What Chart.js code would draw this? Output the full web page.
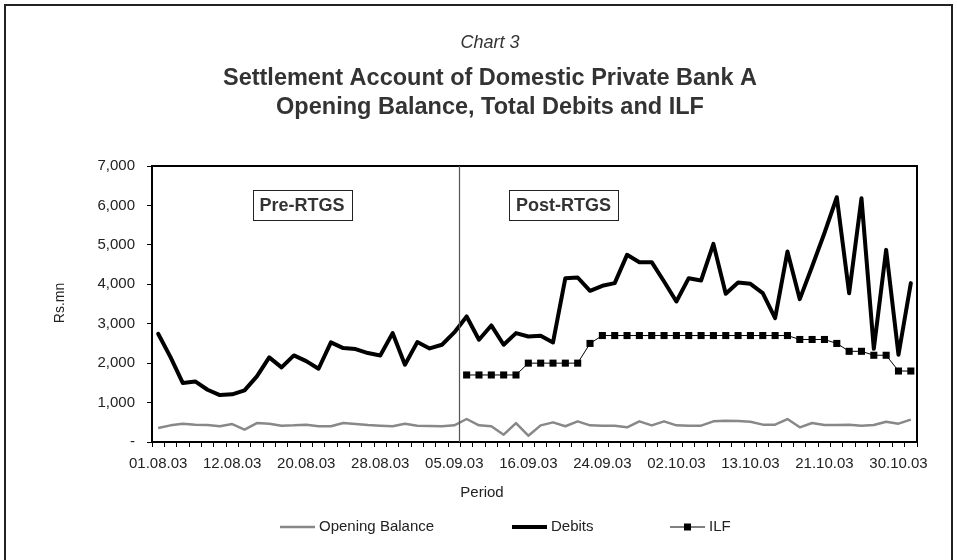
<!DOCTYPE html>
<html><head><meta charset="utf-8">
<script src="https://cdn.jsdelivr.net/npm/chart.js@4.4.0/dist/chart.umd.min.js"></script>
<style>
html,body{margin:0;padding:0;background:#fff;overflow:hidden}
#wrap{position:relative;width:957px;height:560px}
#frame{position:absolute;left:4px;top:4px;width:945px;height:600px;border:2px solid #222}
canvas{position:absolute;left:0;top:0}
</style></head>
<body><div id="wrap"><div id="frame"></div><canvas id="c" width="957" height="560"></canvas></div>
<script>
const dates = ["01.08.03","04.08.03","05.08.03","06.08.03","07.08.03","08.08.03","12.08.03","13.08.03","14.08.03","15.08.03",
"18.08.03","19.08.03","20.08.03","21.08.03","22.08.03","25.08.03","26.08.03","27.08.03","28.08.03","29.08.03",
"01.09.03","02.09.03","03.09.03","04.09.03","05.09.03","08.09.03","09.09.03","11.09.03","12.09.03","15.09.03",
"16.09.03","17.09.03","18.09.03","19.09.03","22.09.03","23.09.03","24.09.03","25.09.03","26.09.03","29.09.03",
"30.09.03","01.10.03","02.10.03","03.10.03","06.10.03","07.10.03","08.10.03","09.10.03","13.10.03","14.10.03",
"15.10.03","16.10.03","17.10.03","20.10.03","21.10.03","22.10.03","23.10.03","27.10.03","28.10.03","29.10.03",
"30.10.03","31.10.03"];
const openingBalance = [355,422,465,440,430,400,456,312,481,465,
414,422,440,400,400,481,456,430,414,400,
465,414,405,400,422,583,422,400,186,481,
160,422,498,400,524,422,414,414,372,524,
422,524,422,414,414,524,540,532,515,440,
440,583,372,481,430,430,440,414,430,515,
465,566];
const debits = [2745,2154,1495,1537,1326,1191,1208,1309,1664,2145,
1892,2196,2052,1858,2525,2382,2356,2255,2196,2762,
1959,2534,2373,2466,2779,3184,2593,2956,2466,2762,
2677,2694,2525,4155,4172,3834,3961,4029,4747,4561,
4561,4071,3564,4155,4096,5025,3758,4046,4012,3775,
3142,4831,3623,4450,5300,6208,3775,6182,2365,4873,
2213,4029];
const ilf = [null,null,null,null,null,null,null,null,null,null,
null,null,null,null,null,null,null,null,null,null,
null,null,null,null,null,1700,1700,1700,1700,1700,
2000,2000,2000,2000,2000,2500,2700,2700,2700,2700,
2700,2700,2700,2700,2700,2700,2700,2700,2700,2700,
2700,2700,2600,2600,2600,2500,2300,2300,2200,2200,
1800,1800];
const yTickValues = [0,1000,2000,3000,4000,5000,6000,7000];
const labelEvery = 6;
const phases = [{text:"Pre-RTGS", x:11.66, y:6000},{text:"Post-RTGS", x:32.85, y:6000}];
const separatorAt = 24.5;

const FONT = "'Liberation Sans', Arial, sans-serif";

const decor = {
  id: 'decor',
  afterDraw(chart) {
    const {ctx, chartArea: a, scales: {x, y}} = chart;
    ctx.save();
    // plot frame top/right
    ctx.strokeStyle = '#000'; ctx.lineWidth = 2;
    ctx.beginPath(); ctx.moveTo(a.left, a.top); ctx.lineTo(a.right, a.top); ctx.lineTo(a.right, a.bottom); ctx.stroke();
    // separator line
    const sx = Math.round(x.getPixelForValue(separatorAt)) - 0.5;
    ctx.strokeStyle = '#555'; ctx.lineWidth = 1.2;
    ctx.beginPath(); ctx.moveTo(sx, a.top); ctx.lineTo(sx, a.bottom); ctx.stroke();
    // phase boxes
    ctx.font = "bold 18px " + FONT;
    ctx.textAlign = 'center'; ctx.textBaseline = 'middle';
    phases.forEach(p => {
      const cx = x.getPixelForValue(p.x), cy = y.getPixelForValue(p.y);
      const w = ctx.measureText(p.text).width + 14, h = 30;
      ctx.fillStyle = '#fff'; ctx.fillRect(cx - w/2, cy - h/2, w, h);
      ctx.strokeStyle = '#222'; ctx.lineWidth = 1;
      ctx.strokeRect(Math.round(cx - w/2) + 0.5, Math.round(cy - h/2) + 0.5, Math.round(w), h);
      ctx.fillStyle = '#333'; ctx.fillText(p.text, cx, cy + 1);
    });
    // titles
    ctx.fillStyle = '#333'; ctx.textBaseline = 'alphabetic';
    ctx.font = "italic 18px " + FONT; ctx.fillText("Chart 3", 490, 48);
    ctx.font = "bold 23.5px " + FONT;
    ctx.fillText("Settlement Account of Domestic Private Bank A", 490, 85);
    ctx.fillText("Opening Balance, Total Debits and ILF", 490, 114);
    // axis titles
    ctx.fillStyle = '#222';
    ctx.font = "14px " + FONT; ctx.textBaseline = 'middle';
    ctx.save(); ctx.translate(60, 303); ctx.rotate(-Math.PI/2); ctx.fillText("Rs.mn", 0, 0); ctx.restore();
    ctx.font = "15px " + FONT;
    ctx.fillText("Period", 482, 493);
    // legend
    const lx = [280, 512, 670];
    const ly = 527;
    ctx.textAlign = 'left';
    chart.data.datasets.forEach((ds, i) => {
      const x0 = lx[i], len = 35;
      ctx.strokeStyle = ds.borderColor; ctx.lineWidth = ds.borderWidth;
      ctx.beginPath(); ctx.moveTo(x0, ly); ctx.lineTo(x0 + len, ly); ctx.stroke();
      if (ds.pointRadius > 0) {
        ctx.fillStyle = ds.pointBackgroundColor;
        ctx.fillRect(x0 + len/2 - 3.5, ly - 3.5, 7, 7);
      }
      ctx.fillStyle = '#222';
      ctx.fillText(ds.label, x0 + len + 4, ly);
    });
    ctx.restore();
  }
};

new Chart(document.getElementById('c'), {
  type: 'line',
  data: {
    labels: dates,
    datasets: [
      {label: 'Opening Balance', data: openingBalance, borderColor: '#888888', backgroundColor: '#888888', borderWidth: 2.5, borderJoinStyle: 'round', pointRadius: 0, tension: 0},
      {label: 'Debits', data: debits, borderColor: '#000000', backgroundColor: '#000000', borderWidth: 4, borderJoinStyle: 'round', borderCapStyle: 'round', pointRadius: 0, tension: 0},
      {label: 'ILF', data: ilf, borderColor: '#000000', backgroundColor: '#000000', pointBackgroundColor: '#000000', borderWidth: 1, pointRadius: 5, pointStyle: 'rect', pointBorderWidth: 0, tension: 0, spanGaps: false}
    ]
  },
  options: {
    responsive: false, animation: false, devicePixelRatio: 1,
    layout: {padding: {left: 0, right: 40, top: 166, bottom: 0}},
    plugins: {legend: {display: false}, title: {display: false}, tooltip: {enabled: false}},
    scales: {
      x: {
        offset: true,
        grid: {offset: true, drawOnChartArea: false, drawTicks: true, tickLength: 5, color: '#000', lineWidth: 1},
        border: {display: true, color: '#000', width: 2},
        ticks: {autoSkip: false, maxRotation: 0, minRotation: 0, padding: 8, color: '#222', font: {family: FONT, size: 15},
          callback: function(v, i) { return i % labelEvery === 0 ? this.getLabelForValue(v) : ''; }},
        afterFit: s => { s.height = 118; }
      },
      y: {
        min: 0, max: 7000,
        afterBuildTicks: s => { s.ticks = yTickValues.map(v => ({value: v})); },
        grid: {drawOnChartArea: false, drawTicks: true, tickLength: 5, color: '#000', lineWidth: 1},
        border: {display: true, color: '#000', width: 2},
        ticks: {padding: 12, color: '#222', font: {family: FONT, size: 15},
          callback: v => v === 0 ? '-' : v.toLocaleString('en-US')},
        afterFit: s => { s.width = 152; }
      }
    }
  },
  plugins: [decor]
});
</script>
</body></html>
